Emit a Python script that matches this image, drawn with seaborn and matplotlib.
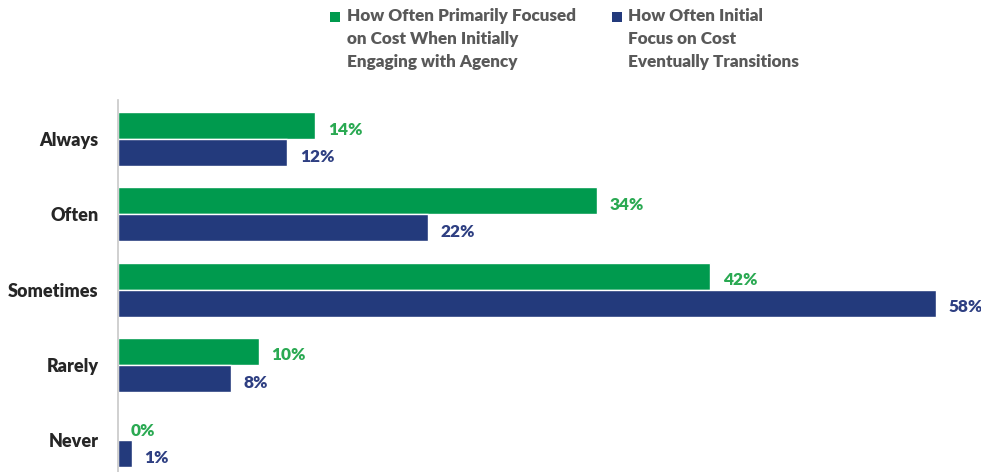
import matplotlib
matplotlib.use("Agg")
import matplotlib.pyplot as plt
from matplotlib.patches import Rectangle
import seaborn as sns
import pandas as pd

categories = ["Always", "Often", "Sometimes", "Rarely", "Never"]
initial_focus = [14, 34, 42, 10, 0]
transition = [12, 22, 58, 8, 1]
series_names = [
    "How Often Primarily Focused\non Cost When Initially\nEngaging with Agency",
    "How Often Initial\nFocus on Cost\nEventually Transitions",
]

GREEN = "#009A4E"
NAVY = "#233A7C"
GREEN_TXT = "#2AA952"
NAVY_TXT = "#2E3F82"

sns.set_theme(style="white")
plt.rcParams["font.family"] = ["Lato", "DejaVu Sans"]

df = pd.DataFrame({
    "category": categories * 2,
    "value": initial_focus + transition,
    "series": [series_names[0]] * len(categories) + [series_names[1]] * len(categories),
})

fig = plt.figure(figsize=(9.81, 4.72), dpi=100)
ax = fig.add_axes([118 / 981, 0.0, 846 / 981, 1 - 100 / 472])

sns.barplot(
    data=df, y="category", x="value", hue="series", order=categories,
    hue_order=series_names, palette=[GREEN, NAVY], orient="h",
    width=0.72, gap=0, saturation=1, errorbar=None, legend=False, ax=ax,
)

ax.set_xlim(0, 60)
ax.set_ylim(4.424, -0.52)
ax.set_xlabel("")
ax.set_ylabel("")
ax.set_xticks([])
for side in ["top", "right", "bottom"]:
    ax.spines[side].set_visible(False)
ax.spines["left"].set_color("#C8C8C8")
ax.spines["left"].set_linewidth(1.2)
ax.tick_params(axis="y", length=0, pad=14)
for lab in ax.get_yticklabels():
    lab.set_fontweight("heavy")
    lab.set_fontsize(13)
    lab.set_color("#262626")

for container, color in zip(ax.containers, [GREEN_TXT, NAVY_TXT]):
    labels = [f"{int(round(v))}%" for v in container.datavalues]
    texts = ax.bar_label(container, labels=labels, padding=9, color=color,
                         fontweight="heavy", fontsize=12.4)
    for t in texts:
        x, y = t.xyann
        t.xyann = (x, y - 3)

# legend drawn as coloured squares with wrapped labels
legend_items = [(330, 347, GREEN), (612, 628, NAVY)]
for (sx, tx, color), name in zip(legend_items, series_names):
    fig.add_artist(Rectangle((sx / 981, 1 - 22 / 472), 10 / 981, 10 / 472,
                             transform=fig.transFigure, color=color, lw=0))
    fig.text(tx / 981, 1 - 8 / 472, name, ha="left", va="top",
             fontsize=12.3, fontweight="heavy", color="#595959", linespacing=1.52)

fig.savefig("out.png", dpi=100, facecolor="white")
